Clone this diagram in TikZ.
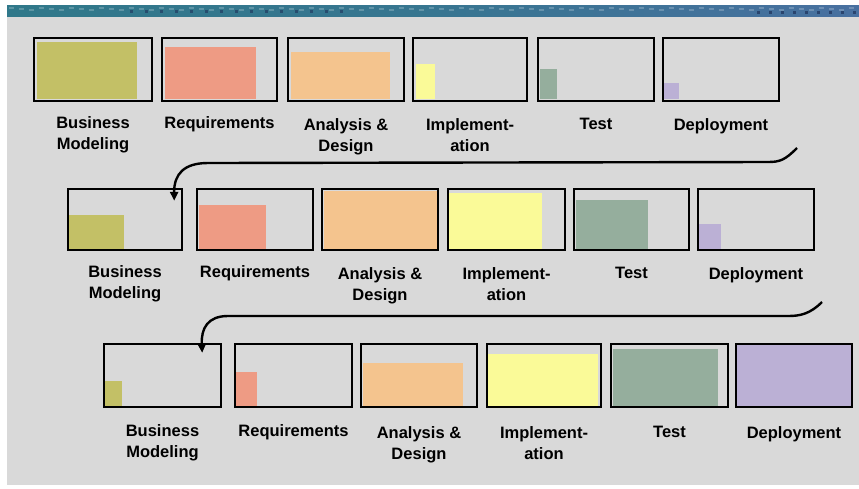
\documentclass[tikz,border=0pt]{standalone}
\usepackage{fontspec}
\setmainfont{Liberation Sans}
\usetikzlibrary{arrows.meta,calc,fit}
\definecolor{bgc}{RGB}{217,217,217}
\definecolor{cBM}{RGB}{195,192,102}
\definecolor{cRQ}{RGB}{238,155,132}
\definecolor{cAD}{RGB}{244,196,142}
\definecolor{cIM}{RGB}{250,250,152}
\definecolor{cTS}{RGB}{149,174,157}
\definecolor{cDP}{RGB}{187,176,213}
\definecolor{stripA}{RGB}{48,120,138}
\definecolor{stripB}{RGB}{72,112,160}
\definecolor{stripD}{RGB}{30,50,90}
\tikzset{
  phasebox/.style={draw=black, line width=2.4pt, inner sep=0pt},
  lbl/.style={font=\fontsize{16.5}{21}\selectfont\bfseries, align=center, inner sep=0pt, anchor=north},
  flow/.style={draw=black, line width=2.4pt, -{Triangle[length=9pt,width=8pt]}}
}
\newcommand\plabel[3]{%
  \node[lbl] (#1-l) at ($(#1.south)+(0,#2)$) {#3};
}
\begin{document}
\begin{tikzpicture}[x=1pt,y=-1pt]
\useasboundingbox (0,0) rectangle (859,488);
\fill[white] (0,0) rectangle (859,488);
\fill[bgc] (7,5) rectangle (859,485);
\shade[left color=stripA, right color=stripB, middle color=stripA!70!stripB] (7,5) rectangle (859,16);
\foreach \i in {0,...,85} {
  \pgfmathsetmacro\xx{9+\i*10}
  \pgfmathsetmacro\yy{7+mod(\i,3)}
  \fill[white, opacity=0.22] (\xx,\yy) rectangle ({\xx+5},{\yy+2});
}
\foreach \i in {0,...,14} {
  \pgfmathsetmacro\xx{130+\i*15}
  \fill[stripD, opacity=0.6] (\xx,10) rectangle ({\xx+3},13);
}
\foreach \i in {0,...,8} {
  \pgfmathsetmacro\xx{757+\i*12}
  \fill[stripD, opacity=0.7] (\xx,11) rectangle ({\xx+3},14);
}
% row 1
\fill[cBM] (37,42) rectangle (137,99);
\node[phasebox, fit={(34,38) (152,101)}] (a1) {};
\fill[cRQ] (165,47) rectangle (256,99);
\node[phasebox, fit={(162,38) (277,101)}] (a2) {};
\fill[cAD] (291,52) rectangle (390,99);
\node[phasebox, fit={(288,38) (404,101)}] (a3) {};
\fill[cIM] (416,64) rectangle (435,99);
\node[phasebox, fit={(413,38) (527,101)}] (a4) {};
\fill[cTS] (540,69) rectangle (557,99);
\node[phasebox, fit={(538,38) (654,101)}] (a5) {};
\fill[cDP] (664,83) rectangle (679,99);
\node[phasebox, fit={(663,38) (779,101)}] (a6) {};
\plabel{a1}{14}{Business\\Modeling}
\plabel{a2}{14}{Requirements}
\plabel{a3}{16}{Analysis \&\\Design}
\plabel{a4}{16}{Implement-\\ation}
\plabel{a5}{16}{Test}
\plabel{a6}{16}{Deployment}
% row 2
\fill[cBM] (69,215) rectangle (124,249);
\node[phasebox, fit={(68,189) (182,250)}] (b1) {};
\fill[cRQ] (199,205) rectangle (266,249);
\node[phasebox, fit={(197,189) (313,250)}] (b2) {};
\fill[cAD] (324,191) rectangle (437,249);
\node[phasebox, fit={(322,189) (438,250)}] (b3) {};
\fill[cIM] (449,193) rectangle (542,249);
\node[phasebox, fit={(448,189) (565,250)}] (b4) {};
\fill[cTS] (576,200) rectangle (648,249);
\node[phasebox, fit={(574,189) (689,250)}] (b5) {};
\fill[cDP] (699,224) rectangle (721,249);
\node[phasebox, fit={(698,189) (814,250)}] (b6) {};
\plabel{b1}{14}{Business\\Modeling}
\plabel{b2}{14}{Requirements}
\plabel{b3}{16}{Analysis \&\\Design}
\plabel{b4}{16}{Implement-\\ation}
\plabel{b5}{16}{Test}
\plabel{b6}{16}{Deployment}
% row 3
\fill[cBM] (105,381) rectangle (122,406);
\node[phasebox, fit={(104,344) (221,407)}] (c1) {};
\fill[cRQ] (236,372) rectangle (257,406);
\node[phasebox, fit={(235,344) (352,407)}] (c2) {};
\fill[cAD] (363,363) rectangle (463,406);
\node[phasebox, fit={(361,344) (477,407)}] (c3) {};
\fill[cIM] (488,354) rectangle (598,406);
\node[phasebox, fit={(487,344) (601,407)}] (c4) {};
\fill[cTS] (613,349) rectangle (718,406);
\node[phasebox, fit={(611,344) (728,407)}] (c5) {};
\fill[cDP] (737,345) rectangle (852,406);
\node[phasebox, fit={(736,344) (852,407)}] (c6) {};
\plabel{c1}{16}{Business\\Modeling}
\plabel{c2}{16}{Requirements}
\plabel{c3}{18}{Analysis \&\\Design}
\plabel{c4}{18}{Implement-\\ation}
\plabel{c5}{18}{Test}
\plabel{c6}{18}{Deployment}
% connectors
\coordinate (s1) at (797,148);
\coordinate (s2) at (822,302);
\draw[flow] (s1) .. controls (785,160) and (780,162) .. (768,162) -- (208,163)
  .. controls (184,163) and (174,174) .. ($(b1.north east)+(-9,13)$);
\draw[flow] (s2) .. controls (810,314) and (800,316) .. (788,316) -- (228,316)
  .. controls (208,316) and (201,328) .. ($(c1.north east)+(-20,10)$);
\end{tikzpicture}
\end{document}
